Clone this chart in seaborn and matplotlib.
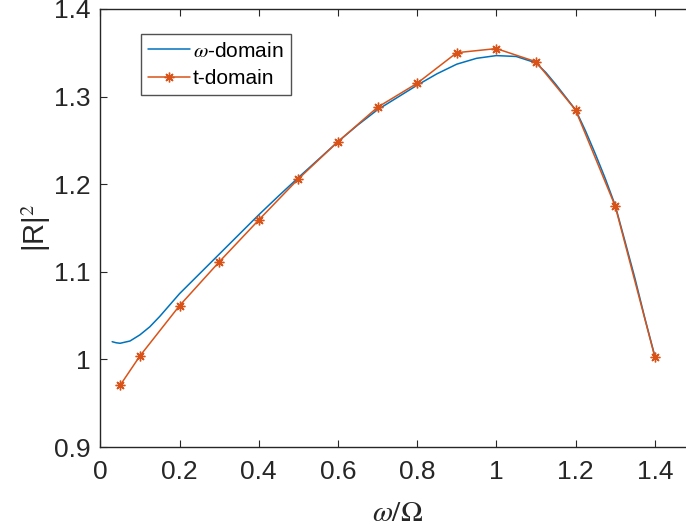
import matplotlib
matplotlib.use("Agg")
import matplotlib.pyplot as plt
import numpy as np
import pandas as pd
import seaborn as sns

# Frequency-domain reflectance (continuous curve)
w_freq = [0.03, 0.04, 0.05, 0.075, 0.1, 0.125, 0.15, 0.175, 0.2, 0.25, 0.3,
          0.35, 0.4, 0.45, 0.5, 0.55, 0.6, 0.65, 0.7, 0.75, 0.8, 0.85, 0.9,
          0.95, 1.0, 1.05, 1.1, 1.125, 1.15, 1.175, 1.2, 1.225, 1.25, 1.275,
          1.3, 1.325, 1.35, 1.375, 1.4]
r2_freq = [1.0202, 1.0190, 1.0184, 1.0210, 1.0280, 1.0372, 1.0490, 1.0620,
           1.0750, 1.0975, 1.1200, 1.1425, 1.1650, 1.1865, 1.2075, 1.2280,
           1.2485, 1.2675, 1.2850, 1.2990, 1.3130, 1.3260, 1.3370, 1.3437,
           1.3468, 1.3458, 1.3385, 1.3275, 1.3140, 1.2995, 1.2850, 1.2610,
           1.2345, 1.2065, 1.1760, 1.1345, 1.0925, 1.0470, 1.0040]

# Time-domain reflectance (sampled)
w_time = [0.05, 0.1, 0.2, 0.3, 0.4, 0.5, 0.6, 0.7, 0.8, 0.9, 1.0, 1.1, 1.2, 1.3, 1.4]
r2_time = [0.9704, 1.0039, 1.0613, 1.1112, 1.1591, 1.2060, 1.2485, 1.2878,
           1.3152, 1.3501, 1.3548, 1.3398, 1.2847, 1.1751, 1.0031]

x_ticks = [0, 0.2, 0.4, 0.6, 0.8, 1.0, 1.2, 1.4]
x_tick_labels = ["0", "0.2", "0.4", "0.6", "0.8", "1", "1.2", "1.4"]
y_ticks = [0.9, 1.0, 1.1, 1.2, 1.3, 1.4]
y_tick_labels = ["0.9", "1", "1.1", "1.2", "1.3", "1.4"]

sns.set_style("ticks")
plt.rcParams["font.family"] = ["Liberation Sans", "DejaVu Sans"]
plt.rcParams["mathtext.fontset"] = "stix"

dark = "#262626"
blue = "#0072BD"
orange = "#D95319"

fig = plt.figure(figsize=(6.86, 5.29), dpi=100)
ax = fig.add_axes([0.1462, 0.155, 0.866, 0.828])

df_freq = pd.DataFrame({"w": w_freq, "r2": r2_freq})
df_time = pd.DataFrame({"w": w_time, "r2": r2_time})

sns.lineplot(data=df_freq, x="w", y="r2", ax=ax, color=blue, linewidth=1.1,
             estimator=None, sort=False, label=r"$\omega$-domain")
sns.lineplot(data=df_time, x="w", y="r2", ax=ax, color=orange, linewidth=1.1,
             marker=(8, 2, 0), markersize=7, markeredgewidth=1.0,
             markeredgecolor=orange, estimator=None, sort=False,
             label="t-domain")

ax.set_xlim(0, 1.5)
ax.set_ylim(0.9, 1.4)
ax.set_xticks(x_ticks)
ax.set_xticklabels(x_tick_labels)
ax.set_yticks(y_ticks)
ax.set_yticklabels(y_tick_labels)

for side in ["left", "bottom", "top"]:
    ax.spines[side].set_visible(True)
    ax.spines[side].set_color(dark)
    ax.spines[side].set_linewidth(1.0)
ax.spines["right"].set_visible(False)

ax.tick_params(axis="both", which="both", direction="in", length=5, width=0.8,
               colors=dark, labelsize=19, top=True, right=False)
ax.tick_params(axis="y", pad=7)
ax.tick_params(axis="x", pad=9)
for lbl in ax.get_xticklabels() + ax.get_yticklabels():
    lbl.set_color(dark)

ax.set_xlabel(r"$\omega/\Omega$", fontsize=21, color=dark, labelpad=11)
ax.set_ylabel(r"|R|$^2$", fontsize=21, color=dark, labelpad=1)

leg = ax.legend(loc="upper left", bbox_to_anchor=(0.0685, 0.942),
                borderaxespad=0, fontsize=15, handlelength=2.0,
                handletextpad=0.15, labelspacing=0.4, borderpad=0.35,
                frameon=True, fancybox=False)
leg.get_frame().set_edgecolor(dark)
leg.get_frame().set_linewidth(1.0)
for t in leg.get_texts():
    t.set_color("black")

fig.savefig("out.png", dpi=100)
